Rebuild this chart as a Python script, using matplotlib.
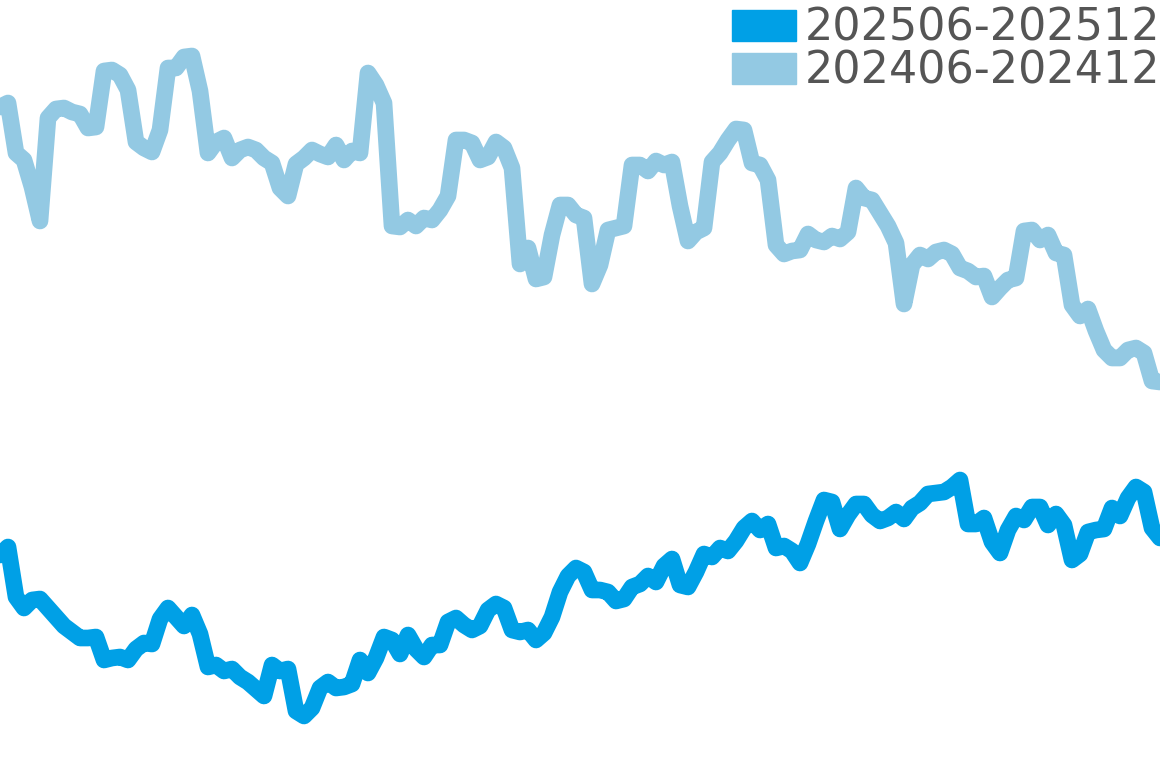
import numpy as np
import matplotlib
matplotlib.use('Agg')
import matplotlib.pyplot as plt
from matplotlib.patches import Patch

# values (146 samples per period)
s2024 = [661, 665, 615, 608, 581, 547, 650, 659, 660, 656, 654, 640, 641, 697, 698, 693,
         678, 626, 620, 616, 638, 700, 700, 711, 712, 677, 615, 626, 630, 610, 618, 621,
         618, 610, 605, 580, 572, 604, 610, 618, 614, 611, 623, 608, 617, 615, 695, 683,
         665, 542, 541, 548, 542, 550, 548, 558, 572, 628, 628, 625, 608, 611, 626, 620,
         600, 504, 520, 489, 491, 533, 563, 563, 553, 550, 484, 503, 538, 540, 542, 603,
         603, 597, 607, 603, 606, 562, 527, 536, 540, 606, 615, 628, 639, 638, 605, 603,
         588, 523, 514, 517, 518, 534, 528, 526, 532, 529, 536, 580, 570, 568, 555, 542,
         525, 464, 503, 513, 509, 516, 518, 514, 500, 497, 491, 492, 471, 480, 488, 490,
         537, 538, 528, 533, 515, 513, 463, 452, 459, 437, 418, 410, 410, 418, 420, 415,
         387, 386]
s2025 = [213, 221, 171, 160, 168, 169, 160, 151, 142, 136, 130, 130, 131, 108, 110, 111,
         108, 119, 125, 124, 149, 160, 151, 142, 153, 134, 101, 103, 97, 99, 91, 86,
         79, 72, 103, 97, 99, 57, 52, 60, 80, 86, 80, 81, 84, 108, 95, 110,
         131, 128, 114, 133, 119, 111, 123, 123, 146, 150, 143, 138, 142, 158, 164, 160,
         138, 136, 138, 128, 135, 151, 176, 192, 200, 196, 178, 178, 176, 167, 169, 181,
         184, 192, 186, 202, 209, 183, 181, 196, 214, 211, 220, 217, 227, 240, 247, 238,
         244, 220, 222, 217, 205, 224, 247, 268, 266, 239, 253, 264, 264, 253, 247, 250,
         256, 249, 260, 265, 274, 275, 276, 281, 288, 244, 244, 250, 226, 215, 238, 252,
         248, 261, 261, 243, 254, 243, 208, 214, 236, 238, 239, 260, 252, 270, 281, 276,
         240, 230]
labels = ['202506-202512', '202406-202412']
colors = ['#00a0e6', '#93c9e3']

x = np.arange(len(s2025))

fig = plt.figure(figsize=(11.6, 7.68), dpi=100)
ax = fig.add_axes([0, 0, 1, 1])
ax.plot(x, s2024, color=colors[1], lw=12, solid_joinstyle='round', solid_capstyle='round')
ax.plot(x, s2025, color=colors[0], lw=12, solid_joinstyle='round', solid_capstyle='round')
ax.set_xlim(0, len(x) - 1)
ax.set_ylim(0, 768)
ax.axis('off')

handles = [Patch(color=c) for c in colors]
leg = ax.legend(handles, labels, loc='upper right', bbox_to_anchor=(1.0, 0.991),
                frameon=False, fontsize=32, handlelength=1.44, handleheight=0.72,
                handletextpad=0.18, labelspacing=0.0, borderaxespad=0.0, borderpad=0.0)
for t in leg.get_texts():
    t.set_color('#555555')

fig.savefig('out.png', dpi=100)
